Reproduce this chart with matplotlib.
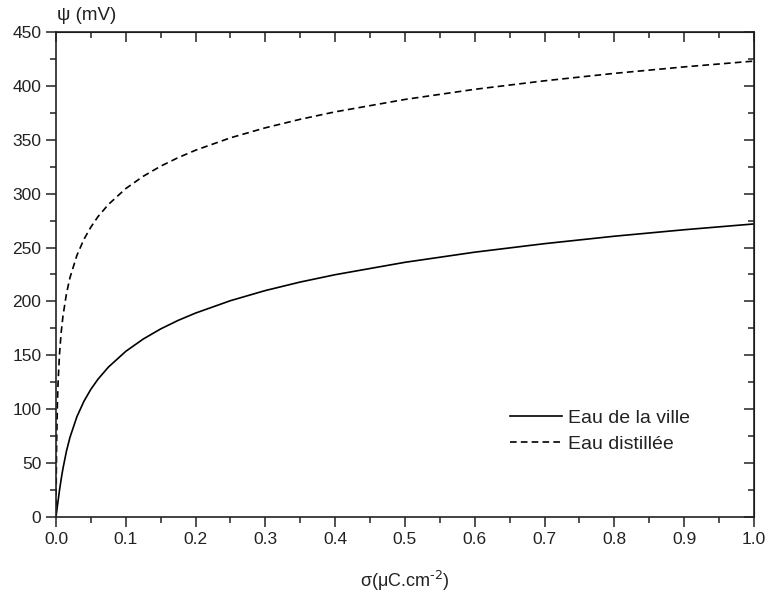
import matplotlib
matplotlib.use("Agg")
import matplotlib.pyplot as plt
from matplotlib.ticker import MultipleLocator

plt.rcParams['font.family'] = ['Liberation Sans', 'DejaVu Sans']

# surface charge density (uC/cm2) and surface potential (mV)
sigma_ville = [0, 0.002, 0.005, 0.0075, 0.01, 0.015, 0.02, 0.03, 0.04, 0.05, 0.06,
               0.075, 0.1, 0.125, 0.15, 0.175, 0.2, 0.25, 0.3, 0.35, 0.4, 0.5,
               0.6, 0.7, 0.8, 0.9, 1.0]
psi_ville = [0, 10.1, 24.6, 35.4, 45.0, 61.1, 73.8, 93.1, 107.3, 118.5, 127.7,
             139.0, 153.7, 165.1, 174.5, 182.4, 189.2, 200.7, 210.1, 218.0, 224.8, 236.3,
             245.7, 253.6, 260.5, 266.5, 271.9]

sigma_dist = [0, 0.0002, 0.0005, 0.001, 0.002, 0.003, 0.005, 0.0075, 0.01, 0.015, 0.02,
              0.03, 0.04, 0.05, 0.06, 0.075, 0.1, 0.125, 0.15, 0.175, 0.2, 0.25,
              0.3, 0.35, 0.4, 0.5, 0.6, 0.7, 0.8, 0.9, 1.0]
psi_dist = [0, 18.9, 42.8, 71.3, 104.5, 124.8, 150.8, 171.6, 186.4, 207.2, 222.0,
            242.8, 257.6, 269.0, 278.5, 289.9, 304.7, 316.1, 325.5, 333.4, 340.3, 351.8,
            361.1, 369.0, 375.9, 387.4, 396.8, 404.7, 411.6, 417.6, 423.0]

fig = plt.figure(figsize=(7.69, 6.01), dpi=100)
ax = fig.add_axes([0.0728, 0.1398, 0.9077, 0.807])

ax.plot(sigma_ville, psi_ville, color='black', lw=1.2, label='Eau de la ville')
ax.plot(sigma_dist, psi_dist, color='black', lw=1.2, ls=(0, (4, 2.5)), label='Eau distillée')

ax.set_xlim(0, 1.0)
ax.set_ylim(0, 450)
ax.xaxis.set_major_locator(MultipleLocator(0.1))
ax.xaxis.set_minor_locator(MultipleLocator(0.05))
ax.yaxis.set_major_locator(MultipleLocator(50))
ax.yaxis.set_minor_locator(MultipleLocator(25))
ax.xaxis.set_major_formatter(lambda v, p: f"{v:.1f}")
ax.tick_params(which='both', direction='out', labelsize=12.5, width=1.1, color='#222222',
               labelcolor='#222222')
ax.tick_params(which='major', length=7)
ax.tick_params(which='minor', length=4)
for s in ax.spines.values():
    s.set_linewidth(1.2)
    s.set_color('#222222')

# mirrored ticks pointing inwards on top and right
top = ax.secondary_xaxis('top')
top.xaxis.set_major_locator(MultipleLocator(0.1))
top.xaxis.set_minor_locator(MultipleLocator(0.05))
top.tick_params(which='both', direction='in', labeltop=False, width=1.1, color='#222222')
top.tick_params(which='major', length=7)
top.tick_params(which='minor', length=4)
right = ax.secondary_yaxis('right')
right.yaxis.set_major_locator(MultipleLocator(50))
right.yaxis.set_minor_locator(MultipleLocator(25))
right.tick_params(which='both', direction='in', labelright=False, width=1.1, color='#222222')
right.tick_params(which='major', length=7)
right.tick_params(which='minor', length=4)

ax.set_xlabel(r"σ(μC.cm$^{\text{-2}}$)", fontsize=13, labelpad=16, color='#222222')
fig.text(0.074, 0.988, "ψ (mV)", fontsize=13.5, ha='left', va='top', color='#222222')

ax.legend(loc='center left', bbox_to_anchor=(0.650, 0.177), frameon=False,
          borderpad=0, borderaxespad=0, fontsize=14, handlelength=2.7,
          handletextpad=0.3, labelspacing=0.45, labelcolor='#222222')

fig.savefig("out.png", dpi=100)
